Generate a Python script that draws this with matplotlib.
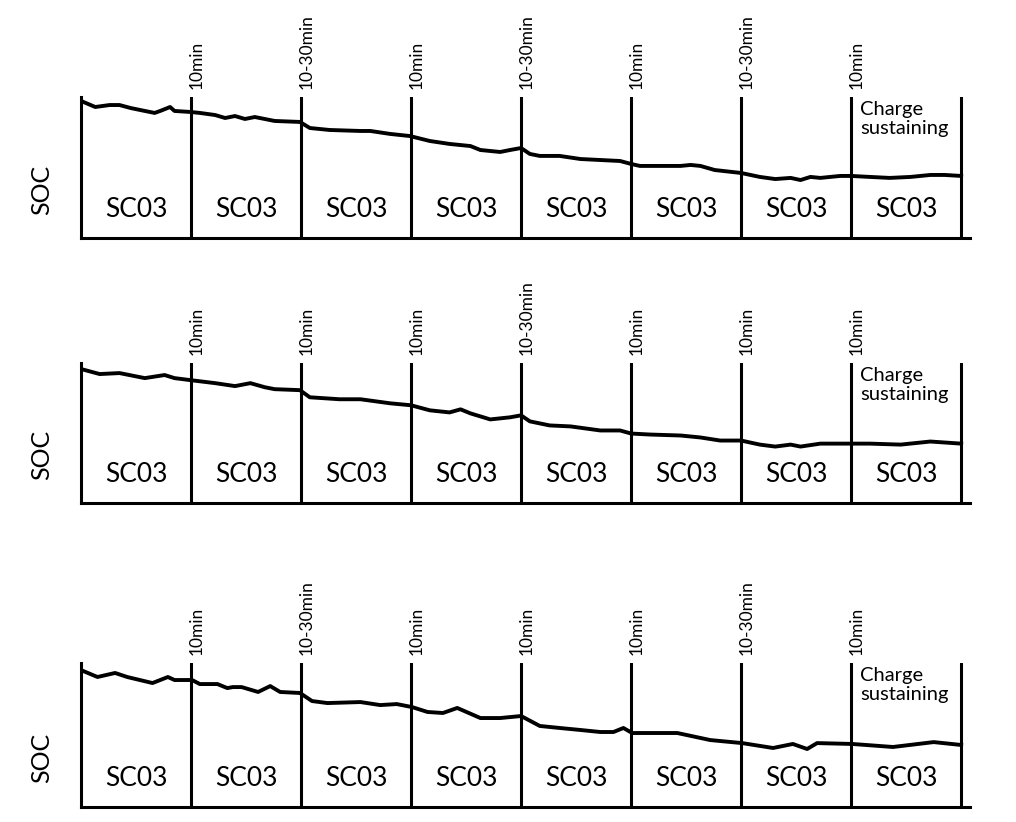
import matplotlib.pyplot as plt

plt.rcParams["font.family"] = ["Lato", "DejaVu Sans"]

# segment index along x (each segment = one SC03 run)
segment_names = ["SC03"] * 8
soc_label = "SOC"
last_note = "Charge\nsustaining"

# rest labels at the segment boundaries 1..7, one list per panel
rest_top = ["10min", "10-30min", "10min", "10-30min", "10min", "10-30min", "10min"]
rest_mid = ["10min", "10min", "10min", "10-30min", "10min", "10min", "10min"]
rest_bot = ["10min", "10-30min", "10min", "10min", "10min", "10-30min", "10min"]

# SOC curves (relative, 0 = bottom of axes, 1 = top)
t_top = [0, 0.13, 0.26, 0.35, 0.45, 0.58, 0.67, 0.72, 0.81, 0.85, 0.99, 1.08,
         1.22, 1.31, 1.40, 1.49, 1.58, 1.67, 1.76, 1.99, 2.08, 2.26, 2.54, 2.63,
         2.81, 2.99, 3.17, 3.35, 3.54, 3.63, 3.81, 3.90, 4.0, 4.08, 4.17, 4.35,
         4.54, 4.72, 4.90, 5.0, 5.08, 5.26, 5.45, 5.54, 5.63, 5.76, 6.0, 6.17,
         6.31, 6.45, 6.54, 6.63, 6.72, 6.90, 7.0, 7.17, 7.35, 7.54, 7.72, 7.85, 8.0]
soc_top = [0.972, 0.929, 0.943, 0.943, 0.922, 0.901, 0.887, 0.901, 0.929, 0.901,
           0.894, 0.887, 0.872, 0.851, 0.865, 0.844, 0.858, 0.844, 0.830, 0.823,
           0.780, 0.766, 0.759, 0.759, 0.738, 0.723, 0.688, 0.667, 0.652, 0.624,
           0.610, 0.624, 0.638, 0.596, 0.582, 0.582, 0.560, 0.553, 0.546, 0.525,
           0.511, 0.511, 0.511, 0.518, 0.511, 0.482, 0.461, 0.433, 0.418, 0.426,
           0.411, 0.433, 0.426, 0.440, 0.440, 0.433, 0.426, 0.433, 0.447, 0.447, 0.440]

t_mid = [0, 0.17, 0.35, 0.58, 0.76, 0.85, 0.99, 1.22, 1.40, 1.54, 1.67, 1.76,
         1.99, 2.08, 2.35, 2.54, 2.81, 3.0, 3.17, 3.35, 3.45, 3.54, 3.72, 3.90,
         4.0, 4.08, 4.26, 4.45, 4.72, 4.90, 5.0, 5.17, 5.45, 5.63, 5.81, 6.0,
         6.17, 6.31, 6.45, 6.54, 6.72, 7.0, 7.17, 7.45, 7.72, 8.0]
soc_mid = [0.957, 0.921, 0.928, 0.892, 0.914, 0.892, 0.878, 0.856, 0.835, 0.856,
           0.827, 0.813, 0.806, 0.755, 0.741, 0.741, 0.712, 0.698, 0.662, 0.647,
           0.669, 0.640, 0.597, 0.612, 0.626, 0.583, 0.554, 0.547, 0.518, 0.518,
           0.496, 0.489, 0.482, 0.468, 0.446, 0.446, 0.417, 0.403, 0.417, 0.403,
           0.424, 0.424, 0.424, 0.417, 0.439, 0.424]

t_bot = [0, 0.15, 0.31, 0.42, 0.65, 0.79, 0.85, 1.01, 1.08, 1.24, 1.33, 1.38,
         1.46, 1.61, 1.72, 1.81, 1.99, 2.10, 2.24, 2.54, 2.72, 2.87, 3.01, 3.15,
         3.29, 3.42, 3.63, 3.81, 4.0, 4.17, 4.35, 4.54, 4.72, 4.84, 4.93, 5.01,
         5.42, 5.72, 6.01, 6.29, 6.47, 6.60, 6.69, 7.01, 7.38, 7.75, 8.0]
soc_bot = [0.951, 0.903, 0.931, 0.903, 0.861, 0.903, 0.882, 0.882, 0.854, 0.854,
           0.826, 0.833, 0.833, 0.799, 0.840, 0.799, 0.792, 0.736, 0.722, 0.729,
           0.708, 0.715, 0.694, 0.660, 0.653, 0.688, 0.618, 0.618, 0.632, 0.563,
           0.549, 0.535, 0.521, 0.521, 0.549, 0.514, 0.514, 0.465, 0.444, 0.410,
           0.438, 0.403, 0.444, 0.438, 0.417, 0.451, 0.431]

panels = [
    (t_top, soc_top, rest_top, [0.0797, 0.7105, 0.875, 0.1715]),
    (t_mid, soc_mid, rest_mid, [0.0797, 0.3881, 0.875, 0.1703]),
    (t_bot, soc_bot, rest_bot, [0.0797, 0.0182, 0.875, 0.1752]),
]

fig = plt.figure(figsize=(10.16, 8.22), dpi=100)

for t, soc, rests, rect in panels:
    ax = fig.add_axes(rect)
    ax.plot(t, soc, color="black", lw=2.8, solid_joinstyle="round")
    ax.set_xlim(0, 8.08)
    ax.set_ylim(0, 1)
    for s in ["top", "right"]:
        ax.spines[s].set_visible(False)
    for s in ["left", "bottom"]:
        ax.spines[s].set_linewidth(2.2)
    ax.set_xticks([])
    ax.set_yticks([])

    for k in range(1, 9):
        ax.axvline(k, color="black", lw=2.2)
    for k, lab in enumerate(rests, start=1):
        ax.annotate(lab, xy=(k + 0.05, 1), xycoords=("data", "axes fraction"),
                    xytext=(0, 6), textcoords="offset points",
                    rotation=90, ha="center", va="bottom", fontsize=12.5,
                    annotation_clip=False)

    for k, name in enumerate(segment_names):
        ax.text(k + 0.5, 0.2, name, ha="center", va="center", fontsize=19)

    ax.text(7.08, 0.97, last_note, ha="left", va="top", fontsize=14.5,
            linespacing=1.15)
    ax.text(-0.044, 0.34, soc_label, transform=ax.transAxes, rotation=90,
            ha="center", va="center", fontsize=18)

fig.savefig("out.png", dpi=100)
